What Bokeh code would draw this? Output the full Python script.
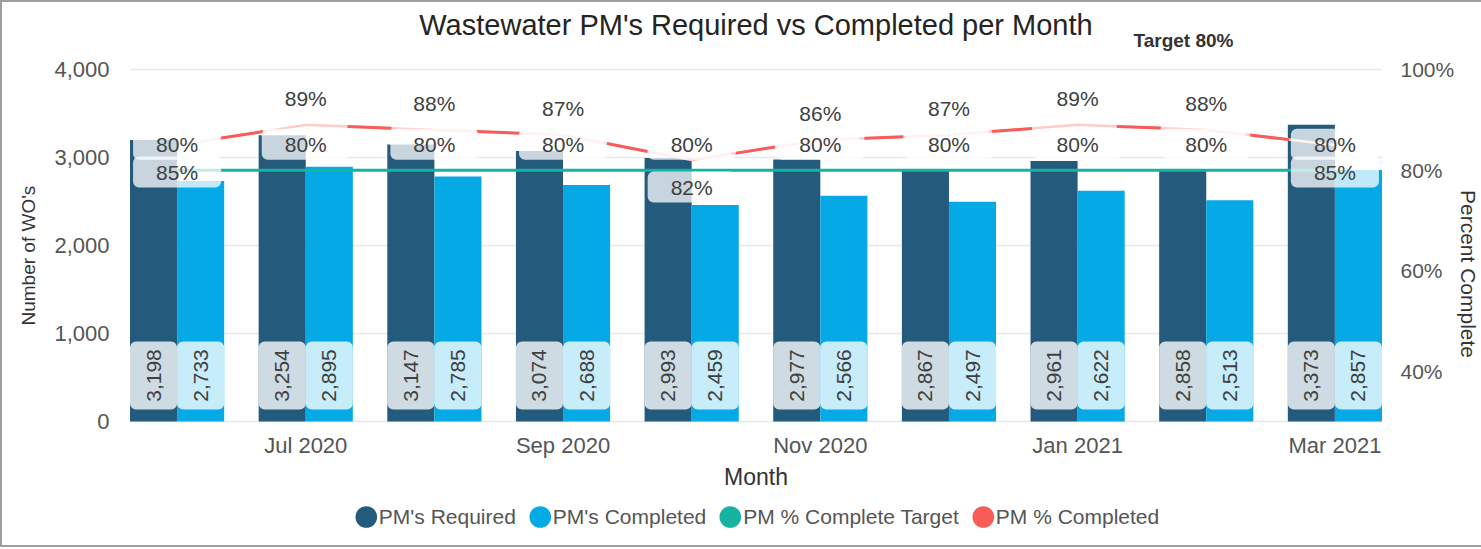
import numpy as np
from bokeh.plotting import figure
from bokeh.models import (ColumnDataSource, Range1d, LinearAxis, FixedTicker,
                          NumeralTickFormatter, PrintfTickFormatter, Legend,
                          LegendItem, Title, Quad, Text)
from bokeh.core.properties import value
from bokeh.embed import file_html
from bokeh.resources import INLINE

# ---------------- data ----------------
months = ["Jun 2020", "Jul 2020", "Aug 2020", "Sep 2020", "Oct 2020",
          "Nov 2020", "Dec 2020", "Jan 2021", "Feb 2021", "Mar 2021"]
pm_required = [3198, 3254, 3147, 3074, 2993, 2977, 2867, 2961, 2858, 3373]
pm_completed = [2733, 2895, 2785, 2688, 2459, 2566, 2497, 2622, 2513, 2857]
pct_completed = [85, 89, 88, 87, 82, 86, 87, 89, 88, 85]
pct_target = [80, 80, 80, 80, 80, 80, 80, 80, 80, 80]
x_tick_labels = ["Jul 2020", "Sep 2020", "Nov 2020", "Jan 2021", "Mar 2021"]
left_ticks = [0, 1000, 2000, 3000, 4000]
right_ticks = [40, 60, 80, 100]
series_names = ["PM's Required", "PM's Completed", "PM % Complete Target", "PM % Completed"]
title_text = "Wastewater PM's Required vs Completed per Month"
target_text = "Target 80%"
x_axis_title = "Month"
left_axis_title = "Number of WO's"
right_axis_title = "Percent Complete"

# ---------------- styles / layout (page pixels) ----------------
FONT = "Liberation Sans"
C_REQ = "#245A7C"
C_COMP = "#04A9E6"
C_TGT = "#16B3A0"
C_PCT = "#F95C58"
C_PCT_PALE = "#FCCBCA"
C_TXT = "#404040"
C_TICK = "#555555"

BORDER = 2
MB_L, MB_R = 125, 101
FRAME_W = 1253
FRAME_TOP_PY, FRAME_BOT_PY = 2, 545       # frame spans the whole chart height
FRAME_H = FRAME_BOT_PY - FRAME_TOP_PY
FRAME_LEFT_PX = BORDER + MB_L
BASE_PY = 421                              # page y of the value 0
TOP_TICK_PY = 69                           # page y of 4,000 and 100%
LOW_PCT_PY = 371                           # page y of 40%
PPU_L = (BASE_PY - TOP_TICK_PY) / left_ticks[-1]
PPU_R = (LOW_PCT_PY - TOP_TICK_PY) / (right_ticks[-1] - right_ticks[0])
Y_LO = -(FRAME_BOT_PY - BASE_PY) / PPU_L
Y_HI = (BASE_PY - FRAME_TOP_PY) / PPU_L
R_LO = right_ticks[0] - (FRAME_BOT_PY - LOW_PCT_PY) / PPU_R
R_HI = right_ticks[-1] + (TOP_TICK_PY - FRAME_TOP_PY) / PPU_R
BW = 0.366
X_LO, X_HI = -0.37, len(months) - 1 + 0.37
PPX = FRAME_W / (X_HI - X_LO)


def ydata(py):
    return (BASE_PY - py) / PPU_L


def xdata(px):
    return X_LO + (px - FRAME_LEFT_PX) / PPX


x = np.arange(len(months), dtype=float)

p = figure(frame_width=FRAME_W, frame_height=FRAME_H,
           x_range=Range1d(X_LO, X_HI), y_range=Range1d(Y_LO, Y_HI),
           x_axis_location=None,
           output_backend="svg", toolbar_location=None,
           min_border_left=MB_L, min_border_right=MB_R,
           min_border_top=0, min_border_bottom=0)
p.styles = {"border-top": "2px solid #9E9E9E", "border-left": "2px solid #9E9E9E",
            "border-bottom": "2px solid #9E9E9E"}
p.extra_y_ranges = {"pct": Range1d(R_LO, R_HI)}
p.outline_line_color = None
p.background_fill_color = "white"
p.border_fill_color = "white"

# ---------------- left axis ----------------
ax_l = p.yaxis[0]
ax_l.ticker = FixedTicker(ticks=left_ticks)
ax_l.formatter = NumeralTickFormatter(format="0,0")
ax_l.axis_line_color = None
ax_l.major_tick_line_color = None
ax_l.minor_tick_line_color = None
ax_l.major_tick_out = 0
ax_l.minor_tick_out = 0
ax_l.major_label_standoff = 20
ax_l.major_label_text_font = FONT
ax_l.major_label_text_font_size = "22px"
ax_l.major_label_text_color = C_TICK
p.add_layout(Title(text=left_axis_title, align="left", offset=FRAME_BOT_PY - 325, standoff=26,
                   text_font=FONT, text_font_size="19px", text_font_style="normal",
                   text_color="#333333"), "left")

# ---------------- right axis ----------------
ax_r = LinearAxis(y_range_name="pct", ticker=FixedTicker(ticks=right_ticks),
                  formatter=PrintfTickFormatter(format="%d%%"))
ax_r.axis_line_color = None
ax_r.major_tick_line_color = None
ax_r.minor_tick_line_color = None
ax_r.major_tick_out = 0
ax_r.minor_tick_out = 0
ax_r.major_label_standoff = 18
ax_r.major_label_text_font = FONT
ax_r.major_label_text_font_size = "21px"
ax_r.major_label_text_color = C_TICK
ax_r.axis_label = right_axis_title
ax_r.axis_label_text_font = FONT
ax_r.axis_label_text_font_style = "normal"
ax_r.axis_label_text_font_size = "21px"
ax_r.axis_label_text_color = "#333333"
ax_r.axis_label_standoff = 0
p.add_layout(ax_r, "right")

p.xgrid.visible = False
p.ygrid.ticker = FixedTicker(ticks=left_ticks)
p.ygrid.grid_line_color = "#E8E8E8"
p.ygrid.grid_line_width = 1.5

# ---------------- bars ----------------
src = ColumnDataSource(dict(
    x=x, x_req=x - BW / 2, x_comp=x + BW / 2,
    req=pm_required, comp=pm_completed,
    req_lbl=[f"{v:,}" for v in pm_required],
    comp_lbl=[f"{v:,}" for v in pm_completed],
))
p.vbar(x="x_req", width=BW, top="req", bottom=0, source=src,
       fill_color=C_REQ, line_color=None)
p.vbar(x="x_comp", width=BW, top="comp", bottom=0, source=src,
       fill_color=C_COMP, line_color=None)

quad_kw = dict(fill_color="white", fill_alpha=0.78, line_color=None)
if "border_radius" in Quad.properties():
    quad_kw["border_radius"] = 6
box_lo, box_hi, box_mid = 12 / PPU_L, 80 / PPU_L, 46 / PPU_L
for col in ["x_req", "x_comp"]:
    p.quad(left=[v - BW / 2 for v in src.data[col]],
           right=[v + BW / 2 for v in src.data[col]],
           bottom=box_lo, top=box_hi, **quad_kw)
for col, lbl in [("x_req", "req_lbl"), ("x_comp", "comp_lbl")]:
    p.text(x=col, y=box_mid, text=lbl, source=src, angle=np.pi / 2,
           text_align="center", text_baseline="middle",
           text_font=value(FONT), text_font_size="21px", text_color=C_TXT)

# ---------------- lines ----------------
lsrc = ColumnDataSource(dict(
    x=x, tgt=pct_target, pct=pct_completed,
    tgt_lbl=[f"{v}%" for v in pct_target],
    pct_lbl=[f"{v}%" for v in pct_completed],
    pct_off=[27 if (c - t) <= 5 else -26 for c, t in zip(pct_completed, pct_target)],
))
p.line(x="x", y="tgt", source=lsrc, y_range_name="pct", line_color=C_TGT, line_width=3)
p.line(x="x", y="pct", source=lsrc, y_range_name="pct", line_color=C_PCT_PALE, line_width=2.5)
dash_on = 44
dash_off = int(round(PPX - dash_on))
p.line(x="x", y="pct", source=lsrc, y_range_name="pct", line_color=C_PCT, line_width=3,
       line_dash=f"{dash_on} {dash_off}", line_dash_offset=int(round(dash_on + dash_off / 2)))

lbl_kw = dict(text_align="center", text_baseline="middle", text_font=value(FONT),
              text_font_size="21px", text_color=C_TXT)
if "background_fill_color" in Text.properties():
    lbl_kw.update(background_fill_color="white", background_fill_alpha=0.75,
                  padding=dict(left=23, right=23, top=4, bottom=4), border_radius=6)
p.text(x="x", y="tgt", text="tgt_lbl", source=lsrc, y_range_name="pct", y_offset=-26, **lbl_kw)
p.text(x="x", y="pct", text="pct_lbl", source=lsrc, y_range_name="pct", y_offset="pct_off", **lbl_kw)

# ---------------- month tick labels and axis title ----------------
tick_idx = [months.index(m) for m in x_tick_labels]
p.text(x=tick_idx, y=ydata(445), text=x_tick_labels, text_align="center",
       text_baseline="middle", text_font=value(FONT), text_font_size="22px",
       text_color=C_TICK)
p.text(x=[(X_LO + X_HI) / 2], y=ydata(476), text=[x_axis_title], text_align="center",
       text_baseline="middle", text_font=value(FONT), text_font_size="23px",
       text_color="#333333")

# ---------------- titles ----------------
p.text(x=[(X_LO + X_HI) / 2], y=ydata(24), text=[title_text], text_align="center",
       text_baseline="middle", text_font=value(FONT), text_font_size="29px",
       text_color="#252423")
p.text(x=[xdata(1181)], y=ydata(40), text=[target_text], text_align="center",
       text_baseline="middle", text_font=value(FONT), text_font_size="19px",
       text_font_style="bold", text_color="#333333")

# ---------------- legend ----------------
items = []
for name, col in zip(series_names, [C_REQ, C_COMP, C_TGT, C_PCT]):
    r = p.ellipse(x=[np.nan], y=[np.nan], width=22, height=22,
                  width_units="screen", height_units="screen",
                  fill_color=col, line_color=None)
    items.append(LegendItem(label=name, renderers=[r], index=0))
legend = Legend(items=items, orientation="horizontal", location="bottom_center",
                glyph_width=27, glyph_height=27, label_standoff=0, spacing=10,
                padding=0, margin=FRAME_BOT_PY - 516 - 14, border_line_color=None,
                background_fill_alpha=0,
                label_text_font=FONT, label_text_font_size="21px", label_text_color="#555555")
p.add_layout(legend)

open("out.html", "w").write(file_html(p, INLINE))
